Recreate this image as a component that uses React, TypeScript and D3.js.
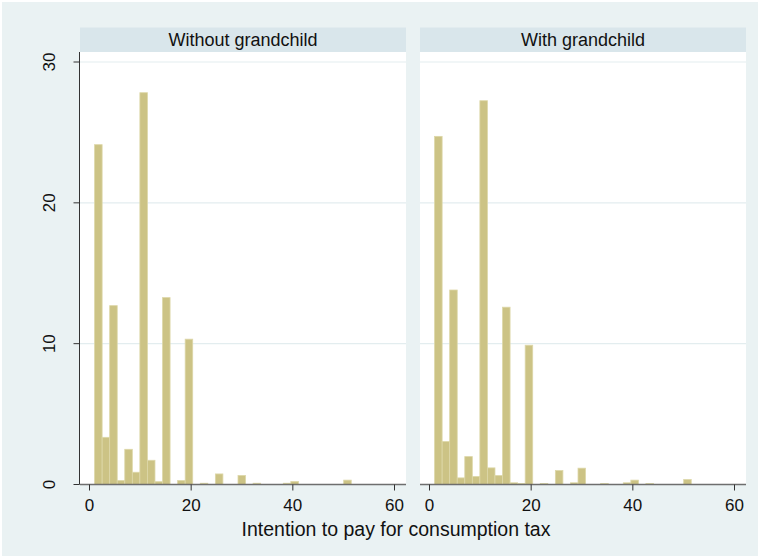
import React from "react";
import * as d3 from "d3";

// Percent of respondents per bin (34 bins, start 1, width 1.485)
const panels = ["Without grandchild", "With grandchild"];

const withoutGrandchild = [
  24.13, 3.35, 12.7, 0.28, 2.5, 0.87, 27.82, 1.72, 0.2, 13.27,
  0, 0.28, 10.32, 0, 0.09, 0, 0.75, 0, 0, 0.64,
  0, 0.09, 0, 0, 0, 0.09, 0.21, 0, 0, 0,
  0, 0, 0, 0.31,
];

const withGrandchild = [
  24.72, 3.05, 13.81, 0.47, 1.98, 0.57, 27.25, 1.18, 0.64, 12.59,
  0.12, 0.07, 9.89, 0, 0.07, 0, 0.99, 0, 0.12, 1.16,
  0, 0, 0.07, 0, 0, 0.12, 0.31, 0, 0.07, 0,
  0, 0, 0, 0.35,
];

const binStart = 1;
const binWidth = 1.485;
const xTicks = [0, 20, 40, 60];
const yTicks = [0, 10, 20, 30];
const xTitle = "Intention to pay for consumption tax";

const W = 763;
const H = 560;
const font = "'Liberation Sans', Arial, Helvetica, sans-serif";

const panelW = 326;
const panelX = [80, 420];
const plotTop = 52;
const plotBottom = 484.5;
const stripTop = 27.5;

const bg = "#eaf2f3";
const stripFill = "#d9e6eb";
const gridColor = "#e3edef";
const barFill = "#ccc385";
const barStroke = "#ddd7a8";

export default function App() {
  const y = d3.scaleLinear().domain([0, 30]).range([plotBottom, 62]);
  const series = [withoutGrandchild, withGrandchild];

  return (
    <svg
      width={W}
      height={H}
      style={{ position: "absolute", left: 0, top: 0, display: "block" }}
      fontFamily={font}
    >
      <rect x={0} y={0} width={W} height={H} fill="#ffffff" />
      <rect x={2} y={2} width={W - 7} height={H - 6} fill={bg} />

      {panels.map((title, p) => {
        const x0 = panelX[p];
        const x = d3.scaleLinear().domain([0, 60]).range([x0 + 9.5, x0 + 314.5]);
        const values = series[p];
        return (
          <g key={title}>
            {/* strip */}
            <rect x={x0} y={stripTop} width={panelW} height={plotTop - stripTop} fill={stripFill} />
            <text
              x={x0 + panelW / 2}
              y={(stripTop + plotTop) / 2 + 6.3}
              textAnchor="middle"
              fontSize={18}
              fill="#111"
            >
              {title}
            </text>

            {/* plot area */}
            <rect x={x0} y={plotTop} width={panelW} height={plotBottom - plotTop} fill="#ffffff" />

            {/* gridlines */}
            {yTicks
              .filter((t) => t > 0)
              .map((t) => (
                <line
                  key={t}
                  x1={x0}
                  x2={x0 + panelW}
                  y1={y(t)}
                  y2={y(t)}
                  stroke={gridColor}
                  strokeWidth={1.2}
                />
              ))}

            {/* bars */}
            {values.map((v, k) =>
              v > 0 ? (
                <rect
                  key={k}
                  x={x(binStart + k * binWidth)}
                  y={y(v)}
                  width={x(binStart + (k + 1) * binWidth) - x(binStart + k * binWidth)}
                  height={y(0) - y(v)}
                  fill={barFill}
                  stroke={barStroke}
                  strokeWidth={0.8}
                />
              ) : null
            )}

            {/* x axis */}
            <line
              x1={x0}
              x2={x0 + panelW}
              y1={plotBottom}
              y2={plotBottom}
              stroke="#6e6e6e"
              strokeWidth={1.3}
            />
            {xTicks.map((t) => (
              <g key={t}>
                <line
                  x1={x(t)}
                  x2={x(t)}
                  y1={plotBottom}
                  y2={plotBottom + 6}
                  stroke="#333"
                  strokeWidth={1}
                />
                <text x={x(t)} y={511} textAnchor="middle" fontSize={17} fill="#111">
                  {t}
                </text>
              </g>
            ))}
          </g>
        );
      })}

      {/* y axis on the first panel */}
      <line x1={79.5} x2={79.5} y1={plotTop} y2={plotBottom} stroke="#333" strokeWidth={1} />
      {yTicks.map((t) => (
        <g key={t}>
          <line x1={73.5} x2={79.5} y1={y(t)} y2={y(t)} stroke="#333" strokeWidth={1} />
          <text
            transform={`translate(${55},${y(t)}) rotate(-90)`}
            textAnchor="middle"
            fontSize={17}
            fill="#111"
          >
            {t}
          </text>
        </g>
      ))}

      {/* axis title */}
      <text x={396} y={536} textAnchor="middle" fontSize={19.5} fill="#111">
        {xTitle}
      </text>
    </svg>
  );
}
